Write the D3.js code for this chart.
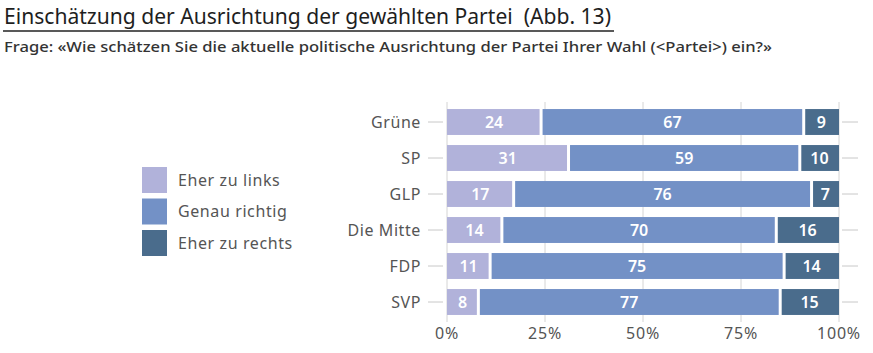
<!DOCTYPE html>
<html>
<head>
<meta charset="utf-8">
<script src="https://cdn.jsdelivr.net/npm/d3@7"></script>
<style>
  body { margin: 0; background: #fff; }
  svg { display: block; font-family: "Noto Sans", "Open Sans", sans-serif; }
</style>
</head>
<body>
<div id="chart"></div>
<script>
// data
const parties = ["Grüne", "SP", "GLP", "Die Mitte", "FDP", "SVP"];
const links = [24, 31, 17, 14, 11, 8];
const richtig = [67, 59, 76, 70, 75, 77];
const rechts = [9, 10, 7, 16, 14, 15];
const seriesNames = ["Eher zu links", "Genau richtig", "Eher zu rechts"];
const colors = ["#b1b2da", "#7391c6", "#4a6c8c"];
const xTicks = [0, 25, 50, 75, 100];

const W = 873, H = 353;
const svg = d3.select("#chart").append("svg").attr("width", W).attr("height", H);

// title + subtitle
svg.append("text").attr("x", 4).attr("y", 24)
  .attr("font-size", 21).attr("fill", "#1e1e1e")
  .style("white-space", "pre")
  .attr("textLength", 607).attr("lengthAdjust", "spacingAndGlyphs")
  .text("Einschätzung der Ausrichtung der gewählten Partei  (Abb. 13)");
svg.append("line").attr("x1", 3).attr("x2", 614).attr("y1", 31).attr("y2", 31)
  .attr("stroke", "#222").attr("stroke-width", 1.5);
svg.append("text").attr("x", 4).attr("y", 52)
  .attr("font-size", 14).attr("font-weight", 500).attr("fill", "#333")
  .attr("textLength", 768).attr("lengthAdjust", "spacingAndGlyphs")
  .text("Frage: «Wie schätzen Sie die aktuelle politische Ausrichtung der Partei Ihrer Wahl (<Partei>) ein?»");

const x = d3.scaleLinear().domain([0, 100]).range([447, 839]);
const y = d3.scaleBand().domain(parties).range([104, 320]).paddingInner(0.28).paddingOuter(0.14);

// light vertical grid (shows only in gaps)
svg.append("g").selectAll("line").data(xTicks).join("line")
  .attr("x1", d => x(d)).attr("x2", d => x(d))
  .attr("y1", 102).attr("y2", 322)
  .attr("stroke", "#d4d4d4").attr("stroke-width", 1);

// stacked data
const rows = parties.map((p, i) => ({ party: p, vals: [links[i], richtig[i], rechts[i]] }));
const segs = [];
rows.forEach(r => {
  let acc = 0;
  r.vals.forEach((v, k) => {
    segs.push({ party: r.party, k, v, x0: acc, x1: acc + v });
    acc += v;
  });
});

svg.append("g").selectAll("rect").data(segs).join("rect")
  .attr("x", d => x(d.x0) + (d.k === 0 ? 0 : 1.5))
  .attr("width", d => x(d.x1) - x(d.x0) - (d.k === 1 ? 3 : 1.5))
  .attr("y", d => y(d.party))
  .attr("height", y.bandwidth())
  .attr("fill", d => colors[d.k]);

svg.append("g").selectAll("text").data(segs).join("text")
  .attr("x", d => x((d.x0 + d.x1) / 2))
  .attr("y", d => y(d.party) + y.bandwidth() / 2)
  .attr("dy", "0.36em")
  .attr("text-anchor", "middle")
  .attr("font-size", 16).attr("font-weight", 600)
  .attr("fill", "#fff")
  .text(d => d.v);

// y axis labels and tick stubs
const yAxis = svg.append("g");
yAxis.selectAll("text").data(parties).join("text")
  .attr("x", 421).attr("y", d => y(d) + y.bandwidth() / 2).attr("dy", "0.36em")
  .attr("text-anchor", "end").attr("font-size", 16).attr("letter-spacing", 0.6).attr("fill", "#555")
  .text(d => d);
yAxis.selectAll("line.l").data(parties).join("line").attr("class", "l")
  .attr("x1", 428).attr("x2", 443)
  .attr("y1", d => y(d) + y.bandwidth() / 2).attr("y2", d => y(d) + y.bandwidth() / 2)
  .attr("stroke", "#c8c8c8");
yAxis.selectAll("line.r").data(parties).join("line").attr("class", "r")
  .attr("x1", 842).attr("x2", 858)
  .attr("y1", d => y(d) + y.bandwidth() / 2).attr("y2", d => y(d) + y.bandwidth() / 2)
  .attr("stroke", "#c8c8c8");

// x axis labels
svg.append("g").selectAll("text").data(xTicks).join("text")
  .attr("x", d => x(d)).attr("y", 339)
  .attr("text-anchor", "middle").attr("font-size", 16).attr("letter-spacing", 0.8).attr("fill", "#555")
  .text(d => d + "%");

// legend
const lg = svg.append("g").attr("transform", "translate(142,167)");
const li = lg.selectAll("g").data(seriesNames).join("g")
  .attr("transform", (d, i) => `translate(0,${i * 31.5})`);
li.append("rect").attr("width", 25).attr("height", 26).attr("fill", (d, i) => colors[i]);
li.append("text").attr("x", 36).attr("y", 13).attr("dy", "0.36em")
  .attr("font-size", 16).attr("letter-spacing", 0.6).attr("fill", "#555").text(d => d);
</script>
</body>
</html>
